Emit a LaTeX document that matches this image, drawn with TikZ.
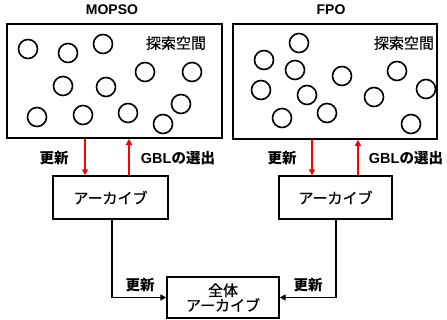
\documentclass[tikz,border=0pt]{standalone}
\usepackage{fontspec}
\setmainfont{Liberation Sans}
\newfontfamily\cjk{Noto Sans CJK JP}
\newfontfamily\cjkmed[FakeBold=0.6]{Noto Sans CJK JP}
\usetikzlibrary{arrows.meta}
\begin{document}
\begin{tikzpicture}[x=1pt,y=-1pt,
  space/.style={draw,line width=1.7pt,inner sep=0pt},
  archbox/.style={draw,line width=1.4pt,inner sep=0pt,font=\fontsize{15}{17}\selectfont\cjkmed,align=center},
  part/.style={draw,circle,line width=1.6pt,minimum size=19pt,inner sep=0pt},
  title/.style={font=\fontsize{14}{16}\selectfont\bfseries},
  spacelbl/.style={font=\fontsize{15}{17}\selectfont\cjkmed},
  lbl/.style={font=\fontsize{14.5}{16}\selectfont\bfseries},
  redarrow/.style={draw=red,line width=1.7pt,-{Triangle[length=6pt,width=6pt]}},
  blkarrow/.style={draw,line width=1.7pt,-{Triangle[length=6pt,width=6pt]}}]
\useasboundingbox (0,0) rectangle (447,320);
% search spaces
\node[space,minimum width=215pt,minimum height=114pt] (spaceL) at (114.5,81) {};
\node[space,minimum width=204pt,minimum height=115pt] (spaceR) at (335,81.5) {};
\node[title] (tL) at (112,10) {MOPSO};
\node[title] (tR) at (331,10) {FPO};
\node[spacelbl] (sL) at (176,43) {探索空間};
\node[spacelbl] (sR) at (404,43) {探索空間};
% particles left
\node[part] (a1) at (28,49) {};
\node[part] (a2) at (68,53) {};
\node[part] (a3) at (103,44) {};
\node[part] (a4) at (63,86) {};
\node[part] (a5) at (106,87) {};
\node[part] (a6) at (145,72) {};
\node[part] (a7) at (192,72) {};
\node[part] (a8) at (37,117) {};
\node[part] (a9) at (83,115) {};
\node[part] (a10) at (128,113) {};
\node[part] (a11) at (181,104) {};
\node[part] (a12) at (163,124) {};
% particles right
\node[part] (b1) at (299,43) {};
\node[part] (b2) at (264,60) {};
\node[part] (b3) at (295,70) {};
\node[part] (b4) at (342,76) {};
\node[part] (b5) at (397,71) {};
\node[part] (b6) at (261,90) {};
\node[part] (b7) at (307,95) {};
\node[part] (b8) at (374,97) {};
\node[part] (b9) at (426,89) {};
\node[part] (b10) at (327,113) {};
\node[part] (b11) at (282,118) {};
\node[part] (b12) at (411,124) {};
% archives
\node[archbox,minimum width=115pt,minimum height=43pt] (archL) at (110.5,197.5) {アーカイブ};
\node[archbox,minimum width=113pt,minimum height=43pt] (archR) at (335.5,197.5) {アーカイブ};
\node[archbox,minimum width=112pt,minimum height=41pt] (glob) at (223,297.5) {全体\\[-2pt]アーカイブ};
% connector x positions
\coordinate (xL1) at (85,0);
\coordinate (xL2) at (129,0);
\coordinate (xR1) at (312,0);
\coordinate (xR2) at (358,0);
\coordinate (xL3) at (112,0);
\coordinate (xR3) at (336,0);
% red arrows
\draw[redarrow] (spaceL.south -| xL1) -- (archL.north -| xL1);
\draw[redarrow] (archL.north -| xL2) -- (spaceL.south -| xL2);
\draw[redarrow] (spaceR.south -| xR1) -- (archR.north -| xR1);
\draw[redarrow] (archR.north -| xR2) -- (spaceR.south -| xR2);
% black arrows
\draw[blkarrow] (archL.south -| xL3) |- (glob.west);
\draw[blkarrow] (archR.south -| xR3) |- (glob.east);
% labels
\node[lbl] (uL) at (54,158) {\cjk 更新};
\node[lbl] (gL) at (178,158) {GBL{\cjk の選出}};
\node[lbl] (uR) at (282,158) {\cjk 更新};
\node[lbl] (gR) at (406,158) {GBL{\cjk の選出}};
\node[lbl] (uB1) at (140,285) {\cjk 更新};
\node[lbl] (uB2) at (308,285) {\cjk 更新};
\end{tikzpicture}
\end{document}
